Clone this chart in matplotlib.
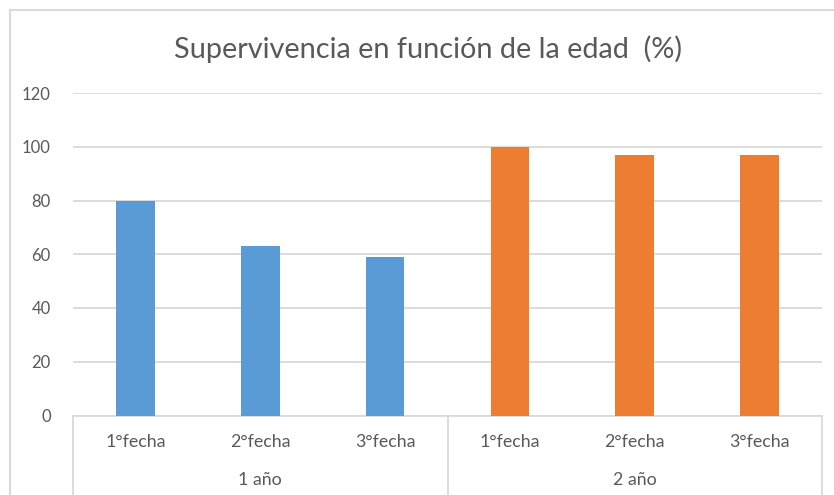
import matplotlib.pyplot as plt
from matplotlib.lines import Line2D

# ---------- DATA ----------
groups = ["1 año", "2 año"]
fechas = ["1°fecha", "2°fecha", "3°fecha"]
valores_1 = [80, 63, 59]
valores_2 = [100, 97, 97]
yticks = [0, 20, 40, 60, 80, 100, 120]

azul = "#5B9BD5"
naranja = "#ED7D31"
gris_txt = "#595959"
gris_lin = "#D9D9D9"

plt.rcParams["font.family"] = ["Lato", "DejaVu Sans"]

W, H = 834, 495
fig = plt.figure(figsize=(W / 100, H / 100), dpi=100)

# plot area in pixels: x 73..822, y 93 (120) .. 415 (0)
ax = fig.add_axes([73 / W, (H - 415.5) / H, (822 - 73) / W, (415.5 - 93) / H])

labels = fechas * len(groups)
values = valores_1 + valores_2
colors = [azul] * len(valores_1) + [naranja] * len(valores_2)
x = list(range(len(values)))
ax.bar(x, values, width=0.31, color=colors, zorder=3)

ax.set_xlim(-0.5, len(values) - 0.5)
ax.set_ylim(0, 120)
ax.set_yticks(yticks)
ax.grid(axis="y", color=gris_lin, linewidth=1.3, zorder=0)
for s in ["top", "right", "left"]:
    ax.spines[s].set_visible(False)
ax.spines["bottom"].set_color(gris_lin)
ax.spines["bottom"].set_linewidth(1.3)
ax.tick_params(axis="y", length=0, pad=16, labelsize=12, labelcolor=gris_txt)
ax.set_xticks([])

# category labels (two levels)
for i, lab in enumerate(labels):
    ax.text(i, -9.8, lab, ha="center", va="center", fontsize=12.8, color=gris_txt)
for g, name in enumerate(groups):
    ax.text(g * 3 + 1, -24, name, ha="center", va="center", fontsize=12.8, color=gris_txt)

# separators of category axis
for xv in [-0.5, 2.5, 5.5]:
    ax.plot([xv, xv], [0, -33], color=gris_lin, linewidth=1.3, clip_on=False, zorder=1)

# chart frame (top and left, cropped)
fig.add_artist(Line2D([9.5 / W, 9.5 / W], [0, (H - 9.5) / H], color=gris_lin, linewidth=1.5))
fig.add_artist(Line2D([9.5 / W, 1], [(H - 9.5) / H, (H - 9.5) / H], color=gris_lin, linewidth=1.5))

fig.text(428 / W, (H - 49) / H, "Supervivencia en función de la edad  (%)",
         ha="center", va="center", fontsize=20.8, color=gris_txt)

fig.savefig("out.png", dpi=100)
